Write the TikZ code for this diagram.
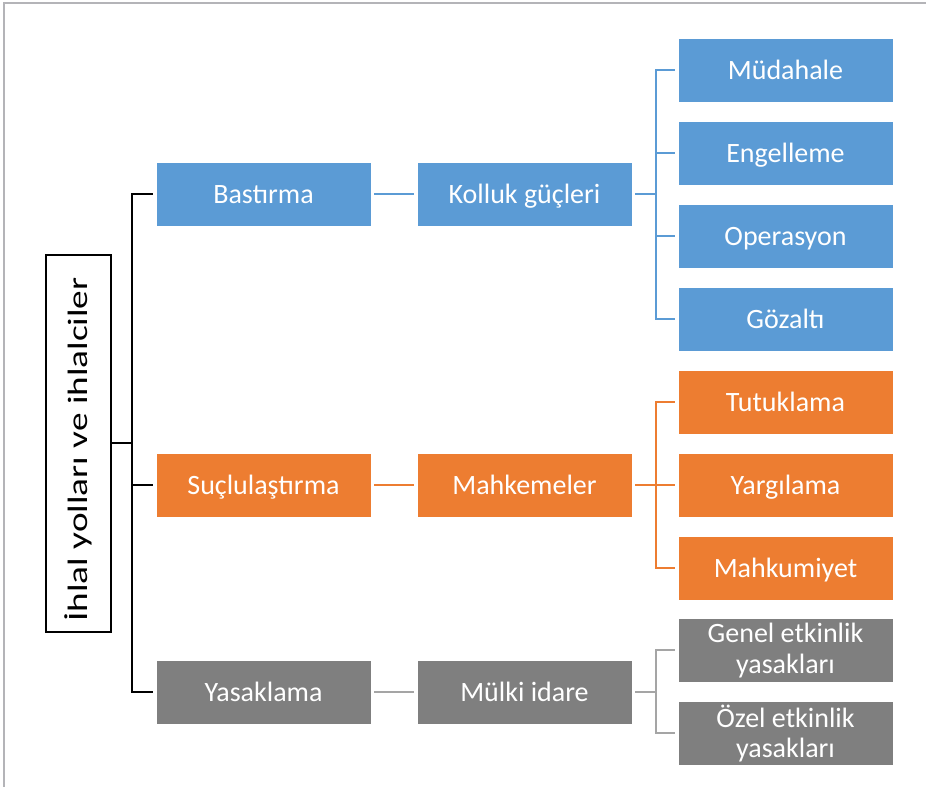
\documentclass[tikz,border=0pt]{standalone}
\usepackage{fontspec}
\setmainfont{Carlito}
\usepackage{tikz}

\definecolor{bluebox}{HTML}{5B9BD5}
\definecolor{orangebox}{HTML}{ED7D31}
\definecolor{graybox}{HTML}{7F7F7F}
\definecolor{grayline}{HTML}{A5A5A5}
\definecolor{framegray}{HTML}{B4B4B8}

\tikzset{
  box/.style={minimum width=161.25pt, minimum height=48pt, inner sep=0pt,
    outer sep=2.25pt, text=white, font=\fontsize{21}{22}\selectfont,
    align=center, draw=white, line width=0.4pt, text height=13.8pt, text depth=0pt},
  twoline/.style={text height={}, text depth={}},
  rootbox/.style={draw=black, line width=1.5pt, minimum width=283pt,
    minimum height=49pt, inner sep=0pt, outer sep=0pt, rotate=90,
    font=\fontsize{21}{24}\selectfont},
  link/.style={line width=1.5pt}
}

\begin{document}
\begin{tikzpicture}[x=0.75pt, y=-0.75pt]

    % Frame of the page
    \useasboundingbox (0,0) rectangle (926,787);
    \draw[framegray, line width=1pt] (4,787) -- (4,3) -- (926,3);

    % Root
    \node[rootbox] (root) at (78.5,443.5) {\scalebox{1.33}[1]{İhlal yolları ve ihlalciler}\hspace*{9pt}};

    % First level
    \node[box, fill=bluebox]   (bastirma) at (263.5,194.5) {Bastırma};
    \node[box, fill=orangebox] (suclu)    at (263.5,485)   {Suçlulaştırma};
    \node[box, fill=graybox]   (yasak)    at (263.5,692)   {Yasaklama};

    % Second level
    \node[box, fill=bluebox]   (kolluk)   at (524.5,194.5) {Kolluk güçleri};
    \node[box, fill=orangebox] (mahkeme)  at (524.5,485)   {Mahkemeler};
    \node[box, fill=graybox]   (mulki)    at (524.5,692)   {Mülki idare};

    % Leaves
    \foreach \name/\y/\txt in {mudahale/70/Müdahale, engel/153/Engelleme,
        operasyon/236/Operasyon, gozalti/319/Gözaltı}
      \node[box, fill=bluebox] (\name) at (785.5,\y) {\txt};
    \foreach \name/\y/\txt in {tutuklama/402/Tutuklama, yargilama/485/Yargılama,
        mahkumiyet/568/Mahkumiyet}
      \node[box, fill=orangebox] (\name) at (785.5,\y) {\txt};
    \node[box, twoline, fill=graybox] (genel) at (785.5,650.5) {Genel etkinlik\\[1pt]yasakları};
    \node[box, twoline, fill=graybox] (ozel)  at (785.5,733.5) {Özel etkinlik\\[1pt]yasakları};

    % Root to first level
    \draw[link] (root.south) -- ++(21,0) coordinate (trunk);
    \foreach \b in {bastirma, suclu, yasak}
      \draw[link] (trunk) |- (\b.west);

    % First to second level
    \draw[link, bluebox]   (bastirma) -- (kolluk);
    \draw[link, orangebox] (suclu) -- (mahkeme);
    \draw[link, grayline]  (yasak) -- (mulki);

    % Second level to leaves
    \draw[link, bluebox] (kolluk.east) -- ++(20.5,0) coordinate (bluejoint);
    \foreach \l in {mudahale, engel, operasyon, gozalti}
      \draw[link, bluebox] (bluejoint) |- (\l.west);
    \draw[link, orangebox] (mahkeme.east) -- ++(20.5,0) coordinate (orangejoint);
    \foreach \l in {tutuklama, yargilama, mahkumiyet}
      \draw[link, orangebox] (orangejoint) |- (\l.west);
    \draw[link, grayline] (mulki.east) -- ++(20.5,0) coordinate (grayjoint);
    \foreach \l in {genel, ozel}
      \draw[link, grayline] (grayjoint) |- (\l.west);

\end{tikzpicture}
\end{document}
